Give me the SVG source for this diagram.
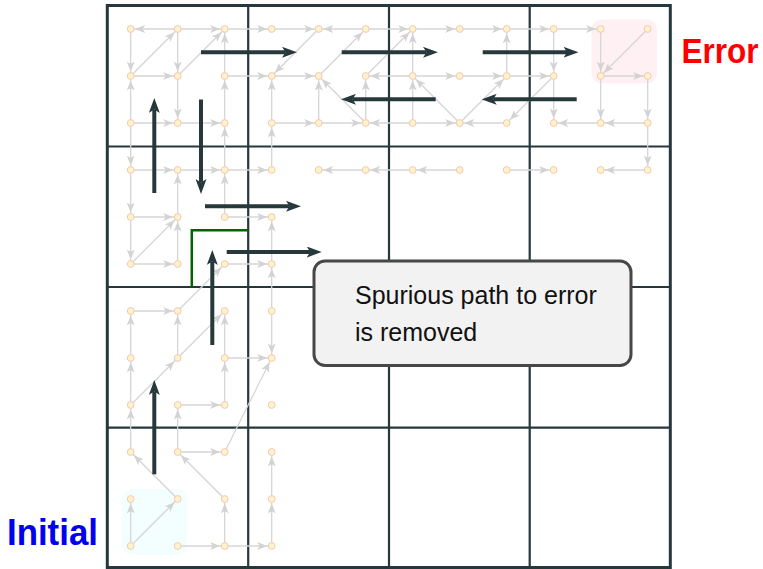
<svg xmlns="http://www.w3.org/2000/svg" width="763" height="569" viewBox="0 0 763 569">
  <style>
    .grid { stroke: #26383b; fill: none; }
    .e { stroke: #d6d6d6; stroke-width: 1.3; fill: none; marker-end: url(#ga); }
    .d { fill: #fff3cc; stroke: #f4c9b2; stroke-width: 1; }
    .big { stroke: #26383b; stroke-width: 4; fill: none; marker-end: url(#dk); }
    .lbl { font-family: "Liberation Sans", Arial, sans-serif; font-weight: bold; font-size: 36px; }
    .note { font-family: "Liberation Sans", Arial, sans-serif; font-size: 25px; fill: #111; }
  </style>
  <defs>
    <marker id="ga" markerUnits="userSpaceOnUse" viewBox="0 0 10 8" markerWidth="10" markerHeight="8" refX="14.5" refY="4" orient="auto">
      <path d="M0 0L10 4L0 8L2.5 4z" fill="#d3d3d3"/>
    </marker>
    <marker id="dk" markerUnits="userSpaceOnUse" viewBox="0 0 15 11" markerWidth="15" markerHeight="11" refX="3.5" refY="5.5" orient="auto">
      <path d="M0 0L15 5.5L0 11L3.5 5.5z" fill="#26383b"/>
    </marker>
  </defs>

  <rect width="763" height="569" fill="#ffffff"/>

  <!-- highlighted regions -->
  <rect x="591.5" y="19.5" width="65.5" height="64" rx="10" fill="#fff0f3"/>
  <rect x="121.7" y="489" width="65.5" height="66" rx="10" fill="#f3ffff"/>

  <!-- 4x4 partition grid -->
  <g id="grid">
    <path class="grid" stroke-width="2.2" d="M248.2 5.5V567.5M389 5.5V567.5M529.7 5.5V567.5M107.3 146.5H670.3M107.3 287H670.3M107.3 427.6H670.3"/>
    <rect class="grid" stroke-width="3" x="107.3" y="5.5" width="563" height="562"/>
  </g>

  <!-- transitions between states -->
  <g id="connectors">
    <path class="e" d="M177.7 29L130.7 29"/>
    <path class="e" d="M177.7 29L224.7 29"/>
    <path class="e" d="M224.7 29L271.7 29"/>
    <path class="e" d="M130.7 29L130.7 76"/>
    <path class="e" d="M130.7 76L177.7 29"/>
    <path class="e" d="M177.7 29L177.7 76"/>
    <path class="e" d="M130.7 76L177.7 76"/>
    <path class="e" d="M177.7 76L224.7 29"/>
    <path class="e" d="M224.7 76L224.7 29"/>
    <path class="e" d="M130.7 123L130.7 76"/>
    <path class="e" d="M177.7 76L177.7 123"/>
    <path class="e" d="M130.7 123L177.7 123"/>
    <path class="e" d="M177.7 123L224.7 123"/>
    <path class="e" d="M224.7 123L224.7 76"/>
    <path class="e" d="M224.7 76L271.7 76"/>
    <path class="e" d="M271.7 123L271.7 76"/>
    <path class="e" d="M318.7 29L271.7 76"/>
    <path class="e" d="M271.7 76L318.7 76"/>
    <path class="e" d="M271.7 29L318.7 29"/>
    <path class="e" d="M365.7 29L318.7 29"/>
    <path class="e" d="M318.7 76L365.7 29"/>
    <path class="e" d="M365.7 29L412.7 29"/>
    <path class="e" d="M365.7 76L412.7 29"/>
    <path class="e" d="M412.7 76L412.7 29"/>
    <path class="e" d="M412.7 29L459.7 29"/>
    <path class="e" d="M318.7 123L318.7 76"/>
    <path class="e" d="M365.7 123L318.7 76"/>
    <path class="e" d="M412.7 76L365.7 76"/>
    <path class="e" d="M365.7 123L365.7 76"/>
    <path class="e" d="M412.7 123L412.7 76"/>
    <path class="e" d="M459.7 123L412.7 76"/>
    <path class="e" d="M412.7 76L459.7 76"/>
    <path class="e" d="M271.7 123L318.7 123"/>
    <path class="e" d="M318.7 123L365.7 123"/>
    <path class="e" d="M412.7 123L365.7 123"/>
    <path class="e" d="M412.7 123L459.7 123"/>
    <path class="e" d="M506.7 123L459.7 123"/>
    <path class="e" d="M459.7 123L506.7 76"/>
    <path class="e" d="M271.7 170L271.7 123"/>
    <path class="e" d="M459.7 29L506.7 29"/>
    <path class="e" d="M506.7 29L553.7 29"/>
    <path class="e" d="M553.7 29L600.7 29"/>
    <path class="e" d="M506.7 76L506.7 29"/>
    <path class="e" d="M553.7 29L553.7 76"/>
    <path class="e" d="M600.7 29L600.7 76"/>
    <path class="e" d="M647.7 29L600.7 76"/>
    <path class="e" d="M459.7 76L506.7 76"/>
    <path class="e" d="M506.7 76L553.7 76"/>
    <path class="e" d="M553.7 76L506.7 123"/>
    <path class="e" d="M553.7 76L553.7 123"/>
    <path class="e" d="M600.7 76L647.7 76"/>
    <path class="e" d="M600.7 76L600.7 123"/>
    <path class="e" d="M647.7 76L647.7 123"/>
    <path class="e" d="M600.7 123L553.7 123"/>
    <path class="e" d="M647.7 123L600.7 123"/>
    <path class="e" d="M647.7 123L647.7 170"/>
    <path class="e" d="M365.7 170L318.7 170"/>
    <path class="e" d="M412.7 170L365.7 170"/>
    <path class="e" d="M459.7 170L412.7 170"/>
    <path class="e" d="M506.7 170L553.7 170"/>
    <path class="e" d="M647.7 170L600.7 170"/>
    <path class="e" d="M130.7 123L130.7 170"/>
    <path class="e" d="M130.7 170L177.7 170"/>
    <path class="e" d="M177.7 170L224.7 170"/>
    <path class="e" d="M224.7 170L271.7 170"/>
    <path class="e" d="M224.7 170L224.7 123"/>
    <path class="e" d="M177.7 217L177.7 170"/>
    <path class="e" d="M224.7 217L224.7 170"/>
    <path class="e" d="M130.7 170L130.7 217"/>
    <path class="e" d="M130.7 217L177.7 217"/>
    <path class="e" d="M130.7 264L177.7 217"/>
    <path class="e" d="M177.7 264L177.7 217"/>
    <path class="e" d="M130.7 217L130.7 264"/>
    <path class="e" d="M224.7 217L271.7 217"/>
    <path class="e" d="M271.7 264L271.7 217"/>
    <path class="e" d="M130.7 264L177.7 264"/>
    <path class="e" d="M177.7 311L224.7 264"/>
    <path class="e" d="M224.7 264L271.7 264"/>
    <path class="e" d="M271.7 311L271.7 264"/>
    <path class="e" d="M177.7 358L224.7 311"/>
    <path class="e" d="M130.7 405L177.7 358"/>
    <path class="e" d="M224.7 358L224.7 311"/>
    <path class="e" d="M271.7 311L271.7 358"/>
    <path class="e" d="M224.7 358L271.7 358"/>
    <path class="e" d="M224.7 405L224.7 358"/>
    <path class="e" d="M224.7 452L271.7 358"/>
    <path class="e" d="M130.7 311L177.7 311"/>
    <path class="e" d="M130.7 358L130.7 311"/>
    <path class="e" d="M177.7 358L177.7 311"/>
    <path class="e" d="M130.7 405L130.7 358"/>
    <path class="e" d="M177.7 405L224.7 405"/>
    <path class="e" d="M177.7 452L177.7 405"/>
    <path class="e" d="M130.7 452L130.7 405"/>
    <path class="e" d="M177.7 499L130.7 452"/>
    <path class="e" d="M177.7 452L224.7 452"/>
    <path class="e" d="M224.7 499L177.7 452"/>
    <path class="e" d="M271.7 499L271.7 452"/>
    <path class="e" d="M130.7 546L130.7 499"/>
    <path class="e" d="M130.7 546L177.7 499"/>
    <path class="e" d="M224.7 546L224.7 499"/>
    <path class="e" d="M177.7 546L224.7 546"/>
    <path class="e" d="M224.7 546L271.7 546"/>
    <path class="e" d="M271.7 546L271.7 499"/>
  </g>

  <!-- states -->
  <g id="states">
    <g id="s0_0"><circle class="d" cx="130.7" cy="29" r="3.4"/></g>
    <g id="s1_0"><circle class="d" cx="177.7" cy="29" r="3.4"/></g>
    <g id="s2_0"><circle class="d" cx="224.7" cy="29" r="3.4"/></g>
    <g id="s3_0"><circle class="d" cx="271.7" cy="29" r="3.4"/></g>
    <g id="s4_0"><circle class="d" cx="318.7" cy="29" r="3.4"/></g>
    <g id="s5_0"><circle class="d" cx="365.7" cy="29" r="3.4"/></g>
    <g id="s6_0"><circle class="d" cx="412.7" cy="29" r="3.4"/></g>
    <g id="s7_0"><circle class="d" cx="459.7" cy="29" r="3.4"/></g>
    <g id="s8_0"><circle class="d" cx="506.7" cy="29" r="3.4"/></g>
    <g id="s9_0"><circle class="d" cx="553.7" cy="29" r="3.4"/></g>
    <g id="s10_0"><circle class="d" cx="600.7" cy="29" r="3.4"/></g>
    <g id="s11_0"><circle class="d" cx="647.7" cy="29" r="3.4"/></g>
    <g id="s0_1"><circle class="d" cx="130.7" cy="76" r="3.4"/></g>
    <g id="s1_1"><circle class="d" cx="177.7" cy="76" r="3.4"/></g>
    <g id="s2_1"><circle class="d" cx="224.7" cy="76" r="3.4"/></g>
    <g id="s3_1"><circle class="d" cx="271.7" cy="76" r="3.4"/></g>
    <g id="s4_1"><circle class="d" cx="318.7" cy="76" r="3.4"/></g>
    <g id="s5_1"><circle class="d" cx="365.7" cy="76" r="3.4"/></g>
    <g id="s6_1"><circle class="d" cx="412.7" cy="76" r="3.4"/></g>
    <g id="s7_1"><circle class="d" cx="459.7" cy="76" r="3.4"/></g>
    <g id="s8_1"><circle class="d" cx="506.7" cy="76" r="3.4"/></g>
    <g id="s9_1"><circle class="d" cx="553.7" cy="76" r="3.4"/></g>
    <g id="s10_1"><circle class="d" cx="600.7" cy="76" r="3.4"/></g>
    <g id="s11_1"><circle class="d" cx="647.7" cy="76" r="3.4"/></g>
    <g id="s0_2"><circle class="d" cx="130.7" cy="123" r="3.4"/></g>
    <g id="s1_2"><circle class="d" cx="177.7" cy="123" r="3.4"/></g>
    <g id="s2_2"><circle class="d" cx="224.7" cy="123" r="3.4"/></g>
    <g id="s3_2"><circle class="d" cx="271.7" cy="123" r="3.4"/></g>
    <g id="s4_2"><circle class="d" cx="318.7" cy="123" r="3.4"/></g>
    <g id="s5_2"><circle class="d" cx="365.7" cy="123" r="3.4"/></g>
    <g id="s6_2"><circle class="d" cx="412.7" cy="123" r="3.4"/></g>
    <g id="s7_2"><circle class="d" cx="459.7" cy="123" r="3.4"/></g>
    <g id="s8_2"><circle class="d" cx="506.7" cy="123" r="3.4"/></g>
    <g id="s9_2"><circle class="d" cx="553.7" cy="123" r="3.4"/></g>
    <g id="s10_2"><circle class="d" cx="600.7" cy="123" r="3.4"/></g>
    <g id="s11_2"><circle class="d" cx="647.7" cy="123" r="3.4"/></g>
    <g id="s0_3"><circle class="d" cx="130.7" cy="170" r="3.4"/></g>
    <g id="s1_3"><circle class="d" cx="177.7" cy="170" r="3.4"/></g>
    <g id="s2_3"><circle class="d" cx="224.7" cy="170" r="3.4"/></g>
    <g id="s3_3"><circle class="d" cx="271.7" cy="170" r="3.4"/></g>
    <g id="s4_3"><circle class="d" cx="318.7" cy="170" r="3.4"/></g>
    <g id="s5_3"><circle class="d" cx="365.7" cy="170" r="3.4"/></g>
    <g id="s6_3"><circle class="d" cx="412.7" cy="170" r="3.4"/></g>
    <g id="s7_3"><circle class="d" cx="459.7" cy="170" r="3.4"/></g>
    <g id="s8_3"><circle class="d" cx="506.7" cy="170" r="3.4"/></g>
    <g id="s9_3"><circle class="d" cx="553.7" cy="170" r="3.4"/></g>
    <g id="s10_3"><circle class="d" cx="600.7" cy="170" r="3.4"/></g>
    <g id="s11_3"><circle class="d" cx="647.7" cy="170" r="3.4"/></g>
    <g id="s0_4"><circle class="d" cx="130.7" cy="217" r="3.4"/></g>
    <g id="s1_4"><circle class="d" cx="177.7" cy="217" r="3.4"/></g>
    <g id="s2_4"><circle class="d" cx="224.7" cy="217" r="3.4"/></g>
    <g id="s3_4"><circle class="d" cx="271.7" cy="217" r="3.4"/></g>
    <g id="s0_5"><circle class="d" cx="130.7" cy="264" r="3.4"/></g>
    <g id="s1_5"><circle class="d" cx="177.7" cy="264" r="3.4"/></g>
    <g id="s2_5"><circle class="d" cx="224.7" cy="264" r="3.4"/></g>
    <g id="s3_5"><circle class="d" cx="271.7" cy="264" r="3.4"/></g>
    <g id="s0_6"><circle class="d" cx="130.7" cy="311" r="3.4"/></g>
    <g id="s1_6"><circle class="d" cx="177.7" cy="311" r="3.4"/></g>
    <g id="s2_6"><circle class="d" cx="224.7" cy="311" r="3.4"/></g>
    <g id="s3_6"><circle class="d" cx="271.7" cy="311" r="3.4"/></g>
    <g id="s0_7"><circle class="d" cx="130.7" cy="358" r="3.4"/></g>
    <g id="s1_7"><circle class="d" cx="177.7" cy="358" r="3.4"/></g>
    <g id="s2_7"><circle class="d" cx="224.7" cy="358" r="3.4"/></g>
    <g id="s3_7"><circle class="d" cx="271.7" cy="358" r="3.4"/></g>
    <g id="s0_8"><circle class="d" cx="130.7" cy="405" r="3.4"/></g>
    <g id="s1_8"><circle class="d" cx="177.7" cy="405" r="3.4"/></g>
    <g id="s2_8"><circle class="d" cx="224.7" cy="405" r="3.4"/></g>
    <g id="s3_8"><circle class="d" cx="271.7" cy="405" r="3.4"/></g>
    <g id="s0_9"><circle class="d" cx="130.7" cy="452" r="3.4"/></g>
    <g id="s1_9"><circle class="d" cx="177.7" cy="452" r="3.4"/></g>
    <g id="s2_9"><circle class="d" cx="224.7" cy="452" r="3.4"/></g>
    <g id="s3_9"><circle class="d" cx="271.7" cy="452" r="3.4"/></g>
    <g id="s0_10"><circle class="d" cx="130.7" cy="499" r="3.4"/></g>
    <g id="s1_10"><circle class="d" cx="177.7" cy="499" r="3.4"/></g>
    <g id="s2_10"><circle class="d" cx="224.7" cy="499" r="3.4"/></g>
    <g id="s3_10"><circle class="d" cx="271.7" cy="499" r="3.4"/></g>
    <g id="s0_11"><circle class="d" cx="130.7" cy="546" r="3.4"/></g>
    <g id="s1_11"><circle class="d" cx="177.7" cy="546" r="3.4"/></g>
    <g id="s2_11"><circle class="d" cx="224.7" cy="546" r="3.4"/></g>
    <g id="s3_11"><circle class="d" cx="271.7" cy="546" r="3.4"/></g>
  </g>

  <!-- abstract transitions between grid cells -->
  <g id="abstract-moves">
    <path class="big" d="M154.3 193V109.5"/>
    <path class="big" d="M201 99.5V182.5"/>
    <path class="big" d="M201 52.3H285.5"/>
    <path class="big" d="M341.7 52.3H426.5"/>
    <path class="big" d="M482.7 52.3H567"/>
    <path class="big" d="M435.7 99.3H352.5"/>
    <path class="big" d="M576.7 99.3H493.2"/>
    <path class="big" d="M205 206.3H289.5"/>
    <path class="big" d="M226.7 252H310.2"/>
    <path class="big" d="M212.3 345V261.5"/>
    <path class="big" d="M154.3 474.3V391.5"/>
  </g>

  <!-- refinement split -->
  <path id="split" d="M191.8 287V230.3H248.2" fill="none" stroke="#006400" stroke-width="2.5"/>

  <g id="note">
    <rect x="314" y="261" width="317" height="104.5" rx="11" fill="#f2f2f2" stroke="#474747" stroke-width="3"/>
    <text class="note" x="355" y="304">Spurious path to error</text>
    <text class="note" x="355" y="341">is removed</text>
  </g>

  <g id="label-error">
    <text class="lbl" fill="#ff0000" transform="translate(681.5 63.3) scale(0.875 1)">Error</text>
  </g>
  <g id="label-initial">
    <text class="lbl" fill="#0000f0" transform="translate(7 545) scale(0.968 1)">Initial</text>
  </g>
</svg>
